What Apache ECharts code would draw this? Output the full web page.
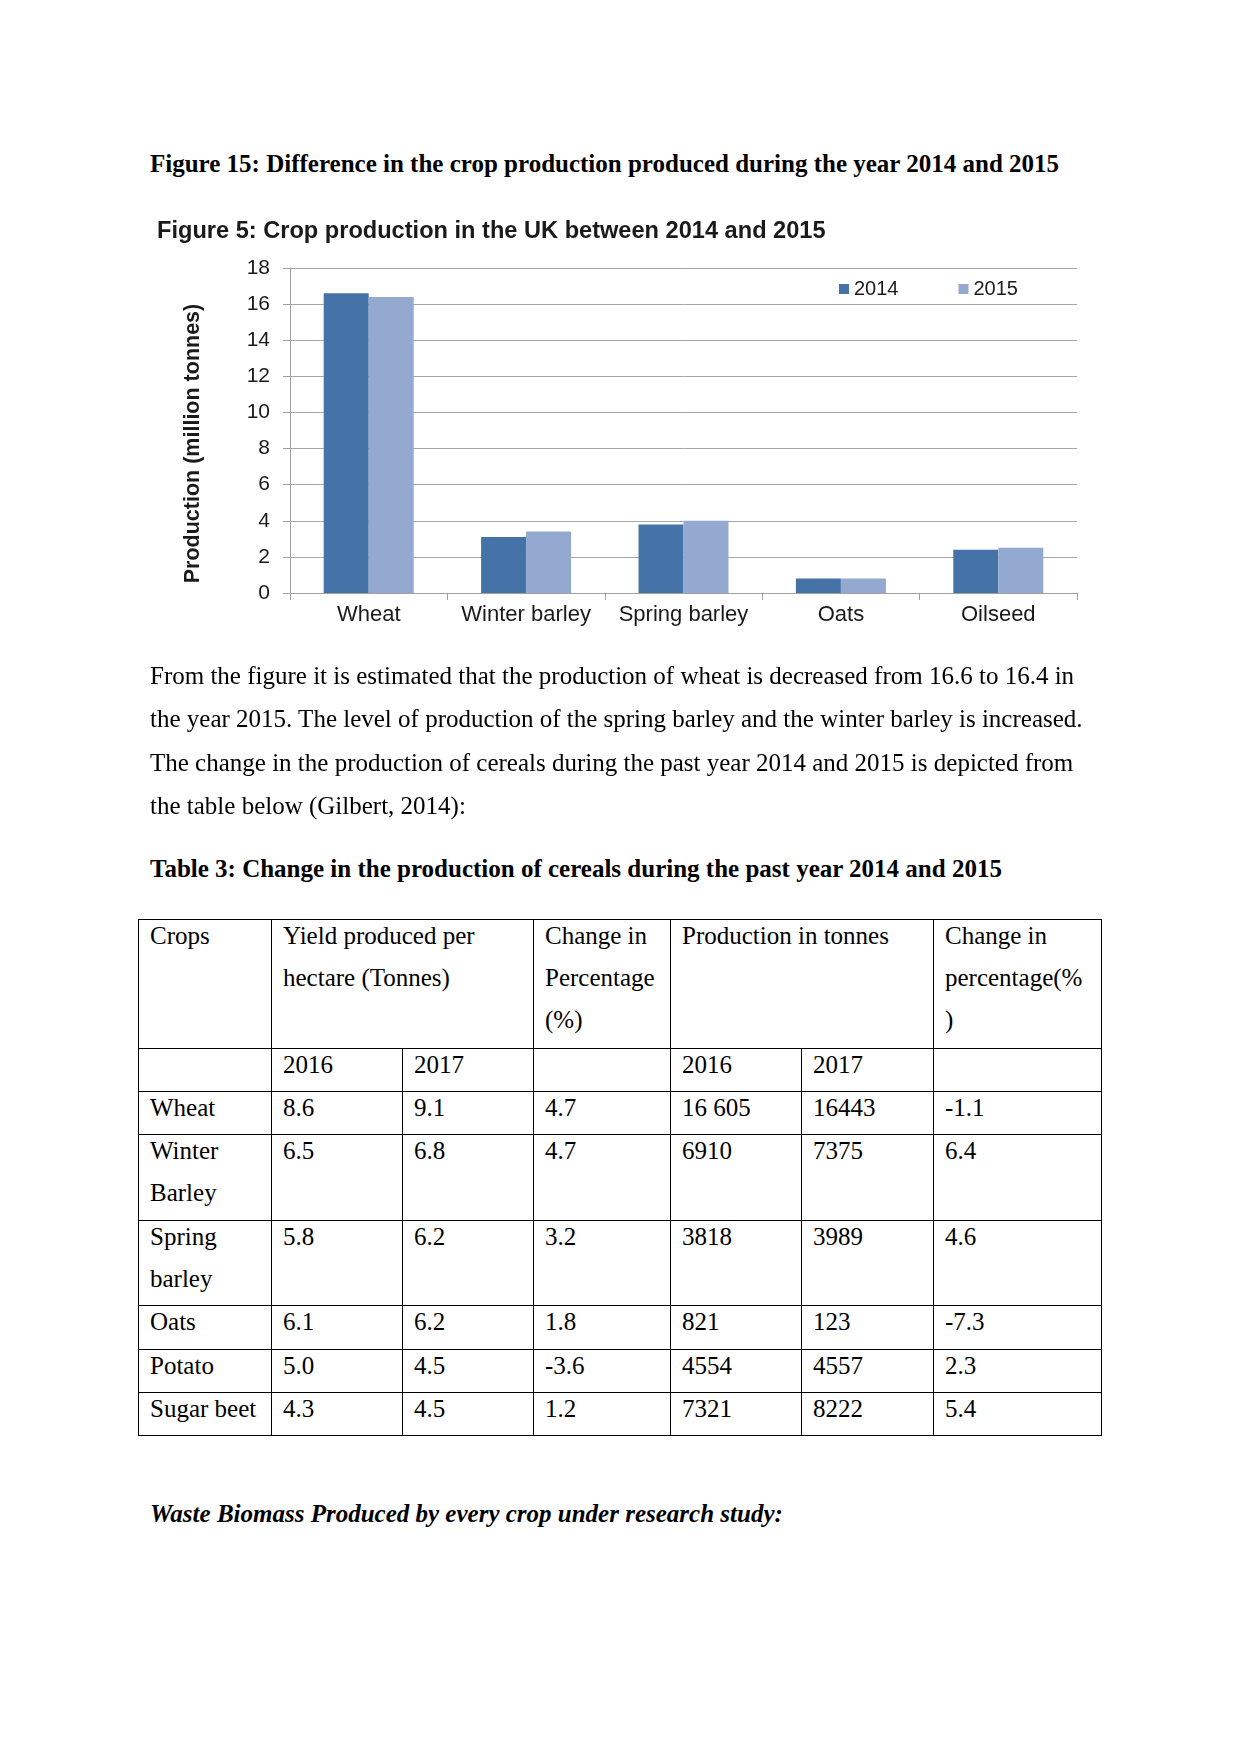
<!DOCTYPE html>
<html>
<head>
<meta charset="utf-8">
<script src="https://cdn.jsdelivr.net/npm/echarts@6/dist/echarts.min.js"></script>
<style>
  html, body { margin: 0; padding: 0; background: #fff; }
  body { width: 1241px; height: 1754px; position: relative; overflow: hidden;
         font-family: "Liberation Serif", "Times New Roman", serif; color: #000; }
  #chart { position: absolute; left: 0; top: 0; width: 1241px; height: 700px; }
  .txt { position: absolute; left: 150px; font-size: 25px; white-space: nowrap; }
  .head { font-weight: bold; line-height: 30px; }
  .para { line-height: 43.3px; }
  table { position: absolute; left: 138px; top: 919px; border-collapse: collapse;
          table-layout: fixed; font-size: 25px; }
  td { border: 1px solid #000; padding: 0 0 0 11px; vertical-align: top; overflow: hidden; }
  td div { position: relative; top: -5px; line-height: 42px; white-space: nowrap; }
</style>
</head>
<body>
<div class="txt head" style="top:149px;">Figure 15: Difference in the crop production produced during the year 2014 and 2015</div>
<div id="chart"></div>
<div class="txt para" style="top:654px;">From the figure it is estimated that the production of wheat is decreased from 16.6 to 16.4 in<br>the year 2015. The level of production of the spring barley and the winter barley is increased.<br>The change in the production of cereals during the past year 2014 and 2015 is depicted from<br>the table below (Gilbert, 2014):</div>
<div class="txt head" style="top:854px;">Table 3: Change in the production of cereals during the past year 2014 and 2015</div>
<table id="tbl"></table>
<div class="txt head" style="top:1499px; font-style:italic;">Waste Biomass Produced by every crop under research study:</div>

<script>
// ---- Chart data ----
const chartTitle = 'Figure 5: Crop production in the UK between 2014 and 2015';
const yAxisTitle = 'Production (million tonnes)';
const categories = ['Wheat', 'Winter barley', 'Spring barley', 'Oats', 'Oilseed'];
const seriesNames = ['2014', '2015'];
const values2014 = [16.6, 3.1, 3.8, 0.8, 2.4];
const values2015 = [16.4, 3.4, 4.0, 0.8, 2.5];
const yMin = 0, yMax = 18, yInterval = 2;

// ---- Table data ----
const tableHeader = ['Crops', 'Yield produced per<br>hectare (Tonnes)', 'Change in<br>Percentage<br>(%)', 'Production in tonnes', 'Change in<br>percentage(%<br>)'];
const tableSubHeader = ['', '2016', '2017', '', '2016', '2017', ''];
const tableCrops = ['Wheat', 'Winter<br>Barley', 'Spring<br>barley', 'Oats', 'Potato', 'Sugar beet'];
const yield2016 = ['8.6', '6.5', '5.8', '6.1', '5.0', '4.3'];
const yield2017 = ['9.1', '6.8', '6.2', '6.2', '4.5', '4.5'];
const yieldChange = ['4.7', '4.7', '3.2', '1.8', '-3.6', '1.2'];
const prod2016 = ['16 605', '6910', '3818', '821', '4554', '7321'];
const prod2017 = ['16443', '7375', '3989', '123', '4557', '8222'];
const prodChange = ['-1.1', '6.4', '4.6', '-7.3', '2.3', '5.4'];

// build table
(function () {
  const colW = [133, 131, 131, 137, 131, 132, 168];
  const rowH = [128.5, 42.5, 43.5, 85.5, 85.5, 43.5, 43, 43.5];
  let html = '<colgroup>' + colW.map(w => '<col style="width:' + w + 'px">').join('') + '</colgroup>';
  html += '<tr style="height:' + rowH[0] + 'px">' +
    '<td><div>' + tableHeader[0] + '</div></td>' +
    '<td colspan="2"><div>' + tableHeader[1] + '</div></td>' +
    '<td><div>' + tableHeader[2] + '</div></td>' +
    '<td colspan="2"><div>' + tableHeader[3] + '</div></td>' +
    '<td><div>' + tableHeader[4] + '</div></td></tr>';
  html += '<tr style="height:' + rowH[1] + 'px">' + tableSubHeader.map(t => '<td><div>' + t + '</div></td>').join('') + '</tr>';
  for (let i = 0; i < tableCrops.length; i++) {
    const cells = [tableCrops[i], yield2016[i], yield2017[i], yieldChange[i], prod2016[i], prod2017[i], prodChange[i]];
    html += '<tr style="height:' + rowH[i + 2] + 'px">' + cells.map(t => '<td><div>' + t + '</div></td>').join('') + '</tr>';
  }
  document.getElementById('tbl').innerHTML = html;
})();

const chart = echarts.init(document.getElementById('chart'), null, { renderer: 'canvas' });
const sans = '"Liberation Sans", Arial, sans-serif';
chart.setOption({
  animation: false,
  backgroundColor: 'transparent',
  title: {
    text: chartTitle,
    left: 152, top: 214,
    textStyle: { fontFamily: sans, fontSize: 23.6, fontWeight: 'bold', color: '#1a1a1a' }
  },
  legend: {
    data: seriesNames,
    left: 834, top: 274,
    icon: 'rect', itemWidth: 10, itemHeight: 10, itemGap: 60,
    textStyle: { fontFamily: sans, fontSize: 20, color: '#1a1a1a' }
  },
  grid: { left: 290, top: 268, right: 164, bottom: 107 },
  xAxis: {
    type: 'category',
    data: categories,
    axisLine: { lineStyle: { color: '#a0a0a0', width: 1 } },
    axisTick: { show: true, length: 7, lineStyle: { color: '#a0a0a0' } },
    axisLabel: { interval: 0, fontFamily: sans, fontSize: 22, color: '#1a1a1a', margin: 11 }
  },
  yAxis: {
    type: 'value',
    min: yMin, max: yMax, interval: yInterval,
    name: yAxisTitle,
    nameLocation: 'middle',
    nameGap: 86,
    nameRotate: 90,
    nameTextStyle: { fontFamily: sans, fontSize: 21.5, fontWeight: 'bold', color: '#1a1a1a', padding: [0, 26, 0, 0] },
    axisLine: { show: true, lineStyle: { color: '#a0a0a0', width: 1 } },
    axisTick: { show: true, length: 7, lineStyle: { color: '#a0a0a0' } },
    axisLabel: { fontFamily: sans, fontSize: 21, color: '#1a1a1a', margin: 20 },
    splitLine: { show: true, lineStyle: { color: '#a6a6a6', width: 1 } }
  },
  series: [
    { name: seriesNames[0], type: 'bar', data: values2014, barWidth: 45, barGap: '0%',
      itemStyle: { color: '#4572a7' } },
    { name: seriesNames[1], type: 'bar', data: values2015, barWidth: 45, barGap: '0%',
      itemStyle: { color: '#93a9cf' } }
  ]
});
</script>
</body>
</html>
